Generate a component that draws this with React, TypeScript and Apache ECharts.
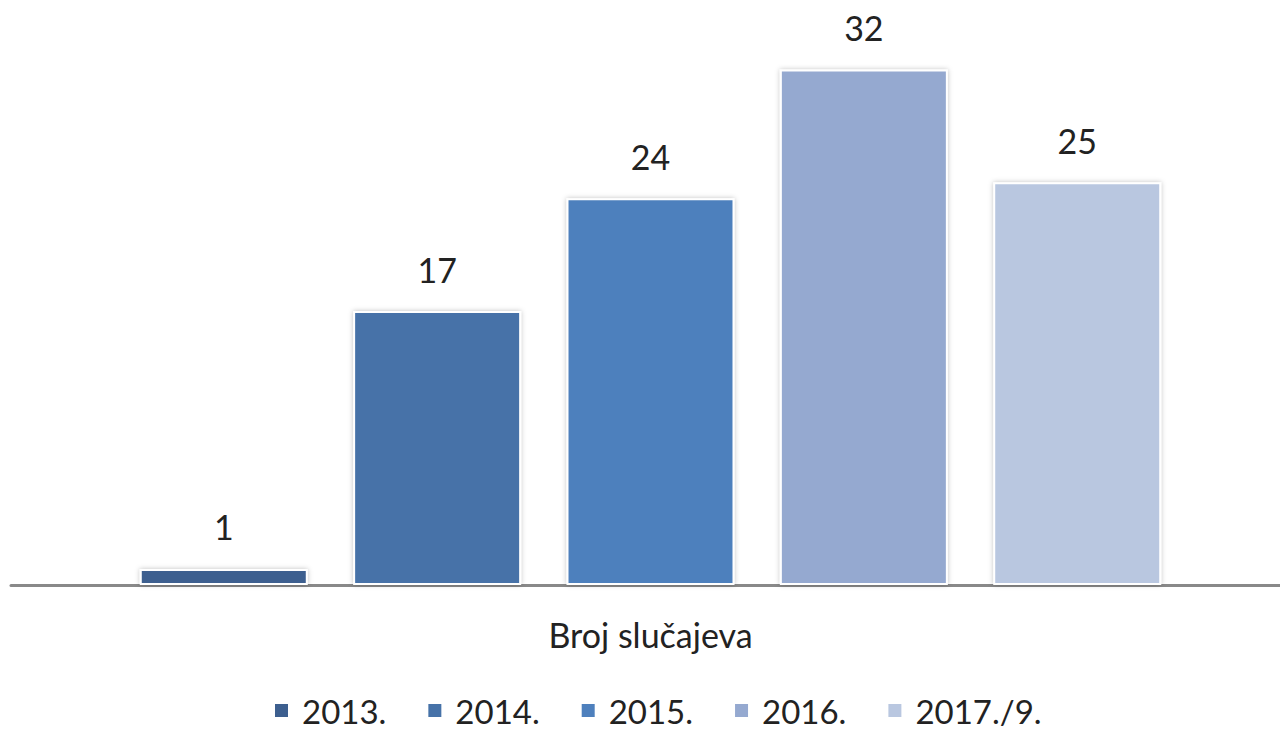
import React, { useEffect, useRef } from "react";
import * as echarts from "echarts";

const categories = ["Broj slučajeva"];
const seriesNames = ["2013.", "2014.", "2015.", "2016.", "2017./9."];
const seriesValues = [1, 17, 24, 32, 25];
const seriesColors = ["#3d5f8f", "#4672a8", "#4e80bd", "#95a9d0", "#b9c7e0"];

export default function App() {
  const ref = useRef<HTMLDivElement>(null);
  useEffect(() => {
    const chart = echarts.init(ref.current!, null, { renderer: "svg" });
    const font = "Lato, 'Open Sans', sans-serif";
    chart.setOption({
      animation: false,
      textStyle: { fontFamily: font },
      grid: { left: 11, right: 0, top: 5, bottom: 144, containLabel: false },
      legend: {
        data: seriesNames,
        top: 689,
        left: 268,
        itemWidth: 15,
        itemHeight: 15,
        itemGap: 40,
        icon: "rect",
        textStyle: { fontSize: 33, color: "#222", fontFamily: font, padding: [0, 0, 0, 8] },
      },
      xAxis: {
        type: "category",
        data: categories,
        axisLine: { lineStyle: { color: "#898989", width: 3 } },
        axisTick: { show: false },
        axisLabel: { fontSize: 34, color: "#222", margin: 32, fontFamily: font },
      },
      yAxis: {
        type: "value",
        min: 0,
        max: 36,
        show: false,
        splitLine: { show: false },
      },
      series: seriesNames.map((name, i) => ({
        name,
        type: "bar",
        data: [seriesValues[i]],
        barWidth: 168,
        barGap: "27%",
        itemStyle: {
          color: seriesColors[i],
          borderColor: "#ffffff",
          borderWidth: 2,
          shadowBlur: 5,
          shadowColor: "rgba(0,0,0,0.25)",
        },
        label: {
          show: true,
          position: "top",
          distance: 25,
          fontSize: 34,
          color: "#222",
          fontFamily: font,
        },
      })),
    });
    return () => chart.dispose();
  }, []);
  return (
    <div
      style={{
        position: "absolute",
        left: 0,
        top: 0,
        width: 1280,
        height: 729,
        overflow: "hidden",
      }}
    >
      <div ref={ref} style={{ width: 1290, height: 729 }} />
    </div>
  );
}
